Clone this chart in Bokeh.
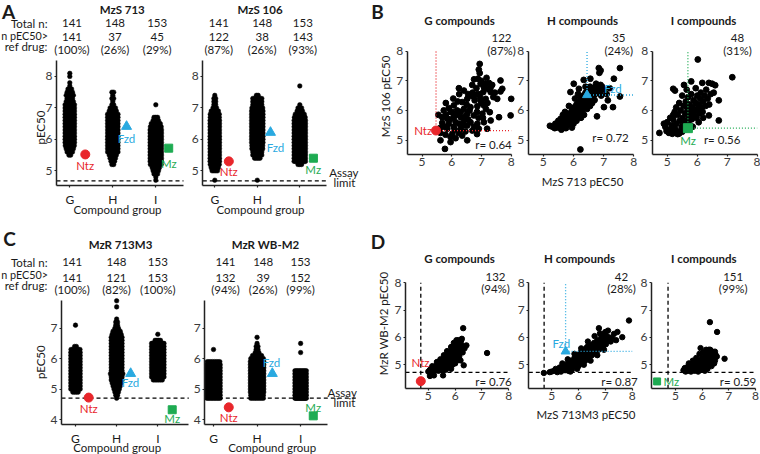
from bokeh.plotting import figure
from bokeh.models import Range1d, Label, FixedTicker
from bokeh.layouts import row, column
from bokeh.embed import file_html
from bokeh.resources import INLINE

FONT = "Lato"
FS = 11.5
SX = 1.0
SY = 1.0
RED, BLUE, GREEN = "#e8262b", "#29a9e0", "#1eab52"
INK = "#1a1a1a"
TICK = "#3a3a3a"

# ---------------- data ----------------
groups = ["G", "H", "I"]
total_n = [141, 148, 153]

# panel A / C header counts (n pEC50 > ref drug)
A1_above = ["141", "37", "45"];   A1_pct = ["(100%)", "(26%)", "(29%)"]
A2_above = ["122", "38", "143"];  A2_pct = ["(87%)", "(26%)", "(93%)"]
C1_above = ["141", "121", "153"]; C1_pct = ["(100%)", "(82%)", "(100%)"]
C2_above = ["132", "39", "152"];  C2_pct = ["(94%)", "(26%)", "(99%)"]

# swarm data: number of compounds per 0.1 pEC50 bin, starting at *_start
A1_G_start = 5.5; A1_G = [2,4,5,6,7,7,7,8,8,8,8,8,8,8,8,7,7,5,4,5,4,3,1,1,0,1,1]
A1_H_start = 5.2; A1_H = [2,3,4,5,7,8,9,9,10,10,10,10,10,10,9,8,7,5,4,2,1,2,1,2]
A1_I_start = 4.7; A1_I = [1,1,3,4,5,7,8,9,10,11,11,11,11,11,10,10,9,7,6,4,3,0,0,0,1]
A2_G_start = 4.7; A2_G = [1,0,0,4,5,6,7,7,7,7,7,7,7,7,7,7,7,7,7,7,6,6,5,3,2,2,2,1]
A2_H_start = 4.7; A2_H = [1,0,0,0,0,0,0,4,6,6,7,7,8,9,8,9,8,8,8,8,8,8,8,7,6,6,6,2]
A2_I_start = 5.2; A2_I = [3,9,9,9,9,9,9,10,10,10,9,9,9,9,8,7,6,4,3,1,0,0,0,0,0,1]
C1_G_start = 4.9; C1_G = [4,8,10,10,10,11,11,11,11,10,10,9,9,8,6,2,0,0,0,0,0,0,1]
C1_H_start = 4.7; C1_H = [1,2,3,4,5,6,7,7,8,7,7,7,7,7,7,7,7,7,7,7,7,6,5,3,2,2,1,0,0,0,1,0,1]
C1_I_start = 5.3; C1_I = [6,12,12,12,12,12,12,12,12,12,12,12,10,4,0,1]
C2_G_start = 4.7; C2_G = [10,12,12,12,12,11,11,11,11,10,10,10,8,0,0,0,1]
C2_H_start = 4.7; C2_H = [8,8,9,9,10,10,10,10,11,11,10,10,9,8,6,3,2,2,1,0,1]
C2_I_start = 4.7; C2_I = [14,17,17,17,17,17,16,14,13,9,0,0,0,0,0,1,0,0,1]

# reference drug pEC50 values in each assay
A1_drugs = {"Ntz": 5.52, "Fzd": 6.41, "Mz": 5.72}
A2_drugs = {"Ntz": 5.30, "Fzd": 6.22, "Mz": 5.40}
C1_drugs = {"Ntz": 4.72, "Fzd": 5.51, "Mz": 4.32}
C2_drugs = {"Ntz": 4.40, "Fzd": 5.51, "Mz": 4.12}
assay_limit_A = 4.68
assay_limit_C = 4.7

# panel B: MzS 713 (x) vs MzS 106 (y)
B_counts = ["122", "35", "48"]; B_pct = ["(87%)", "(24%)", "(31%)"]
B_r = ["r= 0.64", "r= 0.72", "r= 0.56"]
B1_x = [6.94,6.91,6.94,6.88,7.17,7.64,6.24,6.41,6.69,6.97,7.14,7.25,7.36,6.83,7.08,7.22,7.31,7.06,6.88,6.63,7.70,7.64,7.53,8.00,7.14,6.97,6.77,6.52,6.35,6.07,5.90,5.73,5.96,6.18,6.41,6.63,6.86,7.08,7.28,7.98,7.59,7.03,6.74,6.52,6.30,6.07,5.85,5.68,5.68,5.90,6.13,6.41,6.63,6.86,7.08,7.31,5.85,6.07,6.30,6.52,6.69,6.91,7.19,5.62,5.79,6.02,6.24,6.46,6.35,5.96,6.13,5.62,5.96,5.77,6.52,6.85,
        6.20,6.50,6.70,6.95,7.00,6.60,6.30,6.00,5.80,6.15,6.45,6.85,7.15,6.75,6.55,6.25,6.05,5.95,6.25,6.55,6.90,7.20,7.40,7.45,7.30,7.00,6.75,5.75,6.10,5.60,5.55,5.80,6.40,6.75,7.05]
B1_y = [7.57,7.38,7.26,7.07,7.10,7.01,6.75,6.67,6.86,6.90,6.90,6.93,6.86,6.75,6.79,6.73,6.62,6.62,6.56,6.50,6.73,6.64,6.39,6.39,6.39,6.34,6.34,6.39,6.28,6.17,6.08,6.00,5.94,6.00,6.05,6.11,6.14,6.17,5.94,5.83,5.77,5.89,5.83,5.89,5.77,5.77,5.72,5.77,5.58,5.55,5.60,5.66,5.60,5.55,5.60,5.66,5.38,5.44,5.38,5.49,5.32,5.38,5.38,5.24,5.18,5.21,5.24,5.29,5.15,5.10,5.06,4.99,4.93,4.70,4.99,5.20,
        6.30,6.20,6.60,6.45,6.25,6.00,5.95,5.95,5.85,5.85,5.80,5.95,6.05,6.45,6.55,6.55,6.40,5.70,5.55,5.70,5.75,6.25,6.45,6.60,6.75,7.00,7.05,5.45,5.35,5.40,5.85,6.25,5.50,5.45,5.75]
B2_x = [6.23,7.54,6.84,6.90,6.86,7.34,6.34,6.56,6.01,5.90,6.18,6.73,6.90,7.54,7.14,7.01,7.31,6.78,6.67,6.84,6.62,
        5.22,5.30,5.38,5.45,5.50,5.55,5.60,5.62,5.68,5.70,5.75,5.78,5.80,5.85,5.88,5.90,5.92,5.95,5.98,6.00,6.02,6.05,6.08,6.10,6.12,6.15,6.18,6.20,6.22,6.25,6.28,6.30,6.32,6.35,6.38,6.40,6.42,6.45,6.48,6.50,6.52,6.55,6.58,6.60,6.65,6.68,6.72,6.75,6.78,6.82,6.88,6.95,
        5.65,5.85,6.05,6.00,5.75,6.25,5.95,5.40,5.58,6.15,6.45,6.62,6.35,5.72,6.55,6.70,6.92,7.00,6.40,6.10,5.50,7.10,7.20]
B2_y = [4.68,7.43,7.43,7.35,7.27,7.07,7.03,7.07,6.90,6.62,6.73,6.79,6.86,6.47,6.34,6.11,6.11,5.80,6.50,6.62,6.67,
        5.48,5.45,5.40,5.50,5.42,5.60,5.35,5.52,5.70,5.45,5.60,5.80,5.52,5.68,5.90,5.58,5.78,6.00,5.65,5.85,6.10,5.75,5.95,6.20,5.82,6.05,6.30,5.90,6.15,6.40,6.00,6.25,6.50,6.10,6.35,6.60,6.20,6.45,6.70,6.30,6.55,6.80,6.40,6.62,6.48,6.72,6.55,6.90,6.60,6.75,6.65,6.80,
        5.85,6.15,6.40,5.55,5.40,5.75,5.42,5.55,5.72,6.55,6.05,6.25,5.85,5.95,6.15,6.35,6.50,6.70,6.80,5.65,5.65,6.55,6.75]
B3_x = [6.02,7.17,5.80,6.17,6.39,5.20,5.26,5.56,6.72,6.39,6.72,4.74,
        5.06,5.17,5.28,5.40,5.50,4.89,4.94,5.00,5.10,5.15,5.20,5.25,5.30,5.35,5.38,5.42,5.45,5.48,5.52,5.55,5.58,5.60,5.62,5.65,5.68,5.70,5.72,5.75,5.78,5.80,5.82,5.85,5.88,5.90,5.92,5.95,5.98,6.00,6.02,6.05,6.08,6.10,6.12,6.15,6.18,6.20,6.25,6.28,6.30,6.35,6.40,6.45,6.50,6.55,6.60,
        5.30,5.25,5.40,5.50,5.65,5.95,5.20,5.10,5.60,5.75,5.85,6.05,6.20,5.35,4.98]
B3_y = [7.72,7.12,6.98,6.93,6.93,6.73,6.67,6.86,6.34,5.83,5.66,5.24,
        5.24,5.21,5.24,5.22,5.28,5.55,5.44,5.60,5.35,5.50,5.70,5.40,5.55,5.85,5.30,5.65,6.00,5.45,5.75,6.15,5.55,5.90,6.30,5.65,6.05,6.45,5.80,6.20,5.95,6.55,5.70,6.10,6.35,5.85,6.00,6.25,5.75,6.50,6.05,6.20,5.90,6.40,6.60,6.10,5.95,6.30,6.50,6.15,6.70,6.40,6.20,6.55,6.90,6.60,6.85,
        6.10,5.95,6.25,6.50,6.70,6.75,5.85,5.75,5.35,5.50,5.45,5.60,5.75,5.20,5.30]

# panel D: MzS 713M3 (x) vs MzR WB-M2 (y)
D_counts = ["132", "42", "151"]; D_pct = ["(94%)", "(28%)", "(99%)"]
D_r = ["r= 0.76", "r= 0.87", "r= 0.59"]
D1_x = [6.30,7.19,6.42,6.32,6.20,5.21,5.06,5.55,
        5.00,5.05,5.10,5.12,5.18,5.20,5.25,5.28,5.30,5.35,5.38,5.40,5.42,5.45,5.48,5.50,5.52,5.55,5.58,5.60,5.62,5.65,5.68,5.70,5.72,5.75,5.78,5.80,5.82,5.85,5.88,5.90,5.92,5.95,5.98,6.00,6.02,6.05,6.08,6.10,6.12,6.15,6.18,6.20,6.22,6.25,
        6.12,5.95,5.85,5.70,5.58,5.45,5.32,5.15,5.65,5.75,5.90,6.05,6.15,6.28,6.35,5.55,5.85,6.00,6.25,6.05]
D1_y = [6.34,5.43,5.71,4.98,5.16,4.61,4.59,4.61,
        4.75,4.80,4.85,4.75,4.80,4.90,4.78,4.95,4.85,5.00,4.78,4.90,5.08,4.82,4.98,5.15,4.88,5.05,5.22,4.95,5.12,5.30,5.00,5.20,5.38,5.08,5.28,5.45,5.15,5.35,5.52,5.22,5.42,5.60,5.30,5.50,5.68,5.40,5.58,5.78,5.48,5.68,5.85,5.55,5.88,5.72,
        5.90,5.80,5.65,5.50,5.35,5.20,5.10,4.95,4.82,4.90,5.00,5.15,5.30,5.45,5.60,4.78,4.85,5.05,5.95,5.90]
D2_x = [7.88,7.63,6.76,4.71,4.93,5.21,6.95,7.32,
        5.00,5.10,5.15,5.25,5.30,5.35,5.40,5.45,5.50,5.55,5.60,5.62,5.65,5.70,5.72,5.75,5.80,5.82,5.85,5.90,5.92,5.95,6.00,6.02,6.05,6.08,6.10,6.15,6.18,6.20,6.25,6.28,6.30,6.32,6.38,6.40,6.42,6.45,6.50,6.52,6.55,6.58,6.62,6.65,6.68,6.70,6.75,6.78,6.82,6.85,6.90,6.92,6.98,7.02,7.05,7.10,7.15,7.20,7.25,7.40,
        6.60,6.35,6.10,5.85,5.60,5.40,6.80,7.00,6.95,6.70,6.45,6.20,5.95,5.70,7.10,7.45]
D2_y = [6.62,6.01,6.34,4.70,4.73,4.73,6.13,6.13,
        4.75,4.78,4.85,4.80,4.90,4.75,4.85,4.98,4.80,4.92,5.05,4.78,4.88,5.00,5.15,4.82,4.95,5.10,5.25,5.02,5.15,5.35,4.95,5.10,5.25,5.45,5.05,5.20,5.35,5.55,5.15,5.30,5.45,5.65,5.25,5.40,5.55,5.72,5.35,5.50,5.65,5.80,5.45,5.60,5.75,5.90,5.55,5.70,5.85,6.00,5.65,5.80,5.95,5.75,6.05,5.88,6.00,5.85,5.95,5.90,
        6.05,5.85,5.60,5.40,5.20,5.05,6.15,6.20,5.55,5.35,5.15,5.00,4.85,4.75,6.25,6.20]
D3_x = [6.29,6.56,6.84,5.94,
        5.30,5.35,5.38,5.42,5.45,5.48,5.50,5.55,5.58,5.60,5.62,5.65,5.68,5.70,5.72,5.75,5.78,5.80,5.82,5.85,5.88,5.90,5.92,5.95,5.98,6.00,6.02,6.05,6.08,6.10,6.12,6.15,6.18,6.20,6.22,6.25,6.28,6.30,6.32,6.35,6.38,6.40,6.42,6.45,6.48,6.50,
        5.90,5.78,6.05,6.15,6.25,5.50,5.65,6.45,6.55,6.35,5.85,6.10,6.20,6.48,6.30]
D3_y = [6.56,6.20,5.22,5.61,
        4.80,4.88,4.75,4.82,4.92,4.78,4.85,4.95,4.75,4.88,5.00,4.80,4.92,5.05,4.78,4.88,5.00,5.10,4.80,4.92,5.05,5.15,4.85,4.98,5.10,5.25,4.82,4.95,5.05,5.20,5.35,4.90,5.02,5.15,5.30,5.45,5.05,5.20,5.35,5.50,5.10,5.25,5.40,5.28,5.15,5.38,
        5.40,5.25,5.45,5.55,5.55,5.05,5.15,5.05,5.30,4.95,4.75,4.78,4.85,5.48,5.55]
B_drugs = [("Ntz", 5.47, 5.32), ("Fzd", 6.45, 6.52), ("Mz", 5.69, 5.40)]
D_drugs = [("Ntz", 4.72, 4.40), ("Fzd", 5.52, 5.49), ("Mz", 4.31, 4.39)]
assay_limit_D = 4.72

DRUG_STYLE = {"Ntz": ("circle", RED), "Fzd": ("triangle", BLUE), "Mz": ("square", GREEN)}


# ---------------- helpers ----------------
def make_fig(box, frame, xr, yr, xticks, yticks, xlabels=None, xbounds=None):
    """box: figure rectangle, frame: axes rectangle, both in reference pixels.
    The whole figure is the plotting frame; axes are drawn at fixed locations."""
    bx0, by0, bx1, by1 = round(box[0] * SX), round(box[1] * SY), round(box[2] * SX), round(box[3] * SY)
    px0, px1 = frame[0] * SX, frame[2] * SX
    py0, py1 = frame[1] * SY, frame[3] * SY
    ux = (px1 - px0) / (xr[1] - xr[0])
    uy = (py1 - py0) / (yr[1] - yr[0])
    xR = (xr[0] + (bx0 - px0) / ux, xr[0] + (bx1 - px0) / ux)
    yR = (yr[0] - (by1 - py1) / uy, yr[1] + (py0 - by0) / uy)
    p = figure(width=bx1 - bx0, height=by1 - by0, x_range=Range1d(*xR), y_range=Range1d(*yR),
               output_backend="svg", toolbar_location=None,
               min_border_left=0, min_border_right=0, min_border_top=0, min_border_bottom=0)
    p.title.visible = False
    p.outline_line_color = None
    p.grid.visible = False
    p.background_fill_color = "white"
    p.border_fill_color = "white"
    p.xaxis.ticker = FixedTicker(ticks=xticks)
    p.yaxis.ticker = FixedTicker(ticks=yticks)
    p.xaxis.fixed_location = yr[0]
    p.yaxis.fixed_location = xr[0]
    p.xaxis.bounds = xbounds if xbounds else xr
    p.yaxis.bounds = yr
    if xlabels:
        p.xaxis.major_label_overrides = {t: s for t, s in zip(xticks, xlabels)}
        p.xaxis.major_label_text_color = INK
        p.xaxis.major_label_standoff = 4
    else:
        p.xaxis.major_label_text_color = TICK
        p.xaxis.major_label_standoff = 1
    for ax in (p.xaxis[0], p.yaxis[0]):
        ax.axis_line_width = 1.5
        ax.axis_line_color = "#222222"
        ax.major_tick_line_color = "#222222"
        ax.major_tick_line_width = 1.2
        ax.major_tick_out = 2
        ax.major_tick_in = 0
        ax.minor_tick_line_color = None
        ax.major_label_text_font = FONT
        ax.major_label_text_font_size = "12px"
    p.yaxis.major_label_text_color = TICK
    p.yaxis.major_label_standoff = 2
    g = dict(bx0=bx0, by0=by0, ux=ux, uy=uy, xR=xR, yR=yR, xr=xr, yr=yr)
    return p, g


def to_data(g, rx, ry):
    x = g["xR"][0] + (rx * SX - g["bx0"]) / g["ux"]
    y = g["yR"][1] - (ry * SY - g["by0"]) / g["uy"]
    return x, y


def txt(p, g, rx, ry, s, size=FS, color=INK, bold=False, align="center", angle=0):
    x, y = to_data(g, rx, ry)
    p.add_layout(Label(x=x, y=y, text=s, text_font=FONT, text_font_size=f"{size}px",
                       text_color=color, text_font_style="bold" if bold else "normal",
                       text_align=align, text_baseline="middle", angle=angle, angle_units="deg"))


def swarm(p, g, center, start, counts, span):
    xs, ys = [], []
    for i, k in enumerate(counts):
        if k == 0:
            continue
        yv = start + 0.1 * i
        d = min(1.8, (span - 4.6) / (k - 1)) if k > 1 else 0.0
        for j in range(k):
            xs.append(center + (j - (k - 1) / 2) * d / g["ux"])
            ys.append(yv)
    p.scatter(xs, ys, size=4.6, fill_color="black", line_color="black", line_width=0.5)


def drug(p, name, x, y, size):
    m, c = DRUG_STYLE[name]
    p.scatter([x], [y], marker=m, size=size, fill_color=c, line_color=c)


def dashed(p, x0, y0, x1, y1, color="black", dash="4 3"):
    p.segment([x0], [y0], [x1], [y1], line_color=color, line_dash=dash, line_width=1.3)


# ---------------- swarm panels ----------------
def swarm_panel(box, frame, xr, yr, yticks, data, spans, drugs, offs, limit, xbounds=None, line_end=None):
    p, g = make_fig(box, frame, xr, yr, [1, 2, 3], yticks, groups, xbounds)
    dashed(p, xr[0], limit, line_end if line_end else xr[1], limit)
    for ci, (start, counts) in enumerate(data):
        swarm(p, g, ci + 1, start, counts, spans[ci])
    sizes = {"Ntz": 9, "Fzd": 10, "Mz": 8}
    for ci, name in enumerate(["Ntz", "Fzd", "Mz"]):
        drug(p, name, ci + 1 + offs[ci], drugs[name], sizes[name])
    return p, g


HDR = (22.5, 35.5, 47.5)   # header rows (Total n / n pEC50> / ref drug) in panel A

# A1
A1, gA1 = swarm_panel((0, 0, 190, 222), (56, 60, 183, 185), (0.691, 3.644), (4.532, 8.509), [5, 6, 7, 8],
                      [(A1_G_start, A1_G), (A1_H_start, A1_H), (A1_I_start, A1_I)], [14, 15, 16], A1_drugs,
                      [0.36, 0.32, 0.30], assay_limit_A)
txt(A1, gA1, 8, 11, "A", size=19, bold=True)
txt(A1, gA1, 121.7, 9, "MzS 713", bold=True)
txt(A1, gA1, 47, HDR[0], "Total n:", align="right")
txt(A1, gA1, 47.5, HDR[1] - 1, "n pEC50>", size=10.8, align="right")
txt(A1, gA1, 47, HDR[2] - 2, "ref drug:", align="right")
for xx, a, b, c in zip([71.5, 114.5, 156.7], total_n, A1_above, A1_pct):
    txt(A1, gA1, xx, HDR[0], str(a))
    txt(A1, gA1, xx, HDR[1] + 1, b)
    txt(A1, gA1, xx, HDR[2] + 1, c)
txt(A1, gA1, 40, 127, "pEC50", angle=90)
txt(A1, gA1, 117, 209, "Compound group")
txt(A1, gA1, 84.7, 165, "Ntz", color=RED)
txt(A1, gA1, 126, 138, "Fzd", color=BLUE)
txt(A1, gA1, 168.3, 162.7, "Mz", color=GREEN)

# A2
A2, gA2 = swarm_panel((190, 0, 366, 222), (202.3, 60, 326, 185), (0.718, 3.628), (4.532, 8.509), [5, 6, 7, 8],
                      [(A2_G_start, A2_G), (A2_H_start, A2_H), (A2_I_start, A2_I)], [14, 16, 16], A2_drugs,
                      [0.33, 0.31, 0.32], assay_limit_A)
txt(A2, gA2, 259.5, 9, "MzS 106", bold=True)
for xx, a, b, c in zip([218.3, 261.7, 302.3], total_n, A2_above, A2_pct):
    txt(A2, gA2, xx, HDR[0], str(a))
    txt(A2, gA2, xx, HDR[1] + 1, b)
    txt(A2, gA2, xx, HDR[2] + 1, c)
txt(A2, gA2, 343.3, 171.7, "Assay")
txt(A2, gA2, 344, 181.7, "limit")
txt(A2, gA2, 260, 209.3, "Compound group")
txt(A2, gA2, 228.3, 171, "Ntz", color=RED)
txt(A2, gA2, 275, 146.7, "Fzd", color=BLUE)
txt(A2, gA2, 312.7, 169.3, "Mz", color=GREEN)

# C1
C1, gC1 = swarm_panel((0, 222, 190, 454), (61, 300, 188.3, 424.3), (0.66, 3.753), (3.826, 7.91), [4, 5, 6, 7],
                      [(C1_G_start, C1_G), (C1_H_start, C1_H), (C1_I_start, C1_I)], [14, 17, 17], C1_drugs,
                      [0.32, 0.34, 0.35], assay_limit_C)
txt(C1, gC1, 9, 238, "C", size=19, bold=True)
txt(C1, gC1, 120, 244, "MzR 713M3", bold=True)
txt(C1, gC1, 47, 261.7, "Total n:", align="right")
txt(C1, gC1, 47.5, 274.3, "n pEC50>", size=10.8, align="right")
txt(C1, gC1, 47, 285, "ref drug:", align="right")
for xx, a, b, c in zip([71.7, 116, 157.3], total_n, C1_above, C1_pct):
    txt(C1, gC1, xx, 261.7, str(a))
    txt(C1, gC1, xx, 277.3, b)
    txt(C1, gC1, xx, 288.5, c)
txt(C1, gC1, 40, 361.7, "pEC50", angle=90)
txt(C1, gC1, 116.7, 447, "Compound group")
txt(C1, gC1, 88.3, 407.7, "Ntz", color=RED)
txt(C1, gC1, 130, 381.7, "Fzd", color=BLUE)
txt(C1, gC1, 171.7, 418.3, "Mz", color=GREEN)

# C2
C2, gC2 = swarm_panel((190, 222, 368, 454), (204.3, 300, 326.7, 424.3), (0.8, 3.61), (3.826, 7.91), [4, 5, 6, 7],
                      [(C2_G_start, C2_G), (C2_H_start, C2_H), (C2_I_start, C2_I)], [18, 18, 16], C2_drugs,
                      [0.35, 0.35, 0.29], assay_limit_C, line_end=4.30)
txt(C2, gC2, 265, 244, "MzR WB-M2", bold=True)
for xx, a, b, c in zip([225, 262.7, 300], total_n, C2_above, C2_pct):
    txt(C2, gC2, xx, 261.7, str(a))
    txt(C2, gC2, xx, 277.3, b)
    txt(C2, gC2, xx, 288.5, c)
txt(C2, gC2, 341.7, 391.7, "Assay")
txt(C2, gC2, 344, 401.7, "limit")
txt(C2, gC2, 271.7, 447, "Compound group")
txt(C2, gC2, 228.3, 416.7, "Ntz", color=RED)
txt(C2, gC2, 271, 361.7, "Fzd", color=BLUE)
txt(C2, gC2, 312.7, 406.7, "Mz", color=GREEN)


# ---------------- scatter panels ----------------
def scatter_panel(box, frame, xr, yr, xs, ys, size):
    p, g = make_fig(box, frame, xr, yr, [5, 6, 7, 8], [5, 6, 7, 8])
    p.scatter(xs, ys, size=size, fill_color="black", line_color="black")
    return p, g


B_boxes = [(366, 0, 516, 222), (516, 0, 639, 222), (639, 0, 760, 222)]
B_frames = [(406.7, 50.7, 510.7, 154.3), (527.7, 50.7, 633.3, 154.3), (651.7, 50.7, 756.7, 154.3)]
B_data = [(B1_x, B1_y), (B2_x, B2_y), (B3_x, B3_y)]
B_titles = ["G compounds", "H compounds", "I compounds"]
B_title_x = [459, 582, 703]
B_cnt_x = [501, 618.3, 737]
B_r_pos = [(493, 144), (610, 137.3), (721.7, 139.3)]
B_lab_pos = [(422.7, 130), (612.5, 87.7), (687.5, 140)]
B_colors = [RED, BLUE, GREEN]
Bp = []
for i in range(3):
    p, g = scatter_panel(B_boxes[i], B_frames[i], (4.5, 8), (4.5, 8), B_data[i][0], B_data[i][1], 5.8)
    name, dx, dy = B_drugs[i]
    col = B_colors[i]
    dashed(p, dx, dy, dx, 8, color=col, dash="1 2")
    dashed(p, dx, dy, 8, dy, color=col, dash="1 2")
    drug(p, name, dx, dy, 9)
    txt(p, g, B_title_x[i], 20, B_titles[i], bold=True)
    txt(p, g, B_cnt_x[i], 37.7, B_counts[i])
    txt(p, g, B_cnt_x[i], 50, B_pct[i])
    txt(p, g, B_r_pos[i][0], B_r_pos[i][1], B_r[i])
    txt(p, g, B_lab_pos[i][0], B_lab_pos[i][1], name, color=col)
    Bp.append((p, g))
txt(Bp[0][0], Bp[0][1], 377, 11, "B", size=19, bold=True)
txt(Bp[0][0], Bp[0][1], 385, 96, "MzS 106 pEC50", angle=90)
txt(Bp[1][0], Bp[1][1], 582, 181, "MzS 713 pEC50")

D_boxes = [(368, 222, 515, 454), (515, 222, 638, 454), (638, 222, 760, 454)]
D_frames = [(405, 282.3, 508.3, 388.3), (528.3, 282.3, 631.7, 388.3), (651, 282.3, 755, 388.3)]
D_xr = [(4.15, 8), (4.15, 8), (4.10, 8)]
D_data = [(D1_x, D1_y), (D2_x, D2_y), (D3_x, D3_y)]
D_title_x = [459, 579, 703.3]
D_cnt_x = [495, 621, 732.7]
D_r_pos = [(493, 381), (619, 381), (737.5, 381)]
D_lab_pos = [(420, 362.3), (560.8, 343.3), (670.8, 381)]
D_sizes = [9, 9, 7]
Dp = []
for i in range(3):
    xr = D_xr[i]
    p, g = scatter_panel(D_boxes[i], D_frames[i], xr, (4.12, 8), D_data[i][0], D_data[i][1], 5.4)
    dashed(p, xr[0], assay_limit_D, 8, assay_limit_D)
    dashed(p, assay_limit_D, 4.12, assay_limit_D, 8)
    name, dx, dy = D_drugs[i]
    col = B_colors[i]
    if name == "Fzd":
        dashed(p, dx, dy, dx, 8, color=col, dash="1 2")
        dashed(p, dx, dy, 8, dy, color=col, dash="1 2")
    drug(p, name, dx, dy, D_sizes[i])
    txt(p, g, D_title_x[i], 258.3, B_titles[i], bold=True)
    txt(p, g, D_cnt_x[i], 276.7, D_counts[i])
    txt(p, g, D_cnt_x[i], 288.3, D_pct[i])
    txt(p, g, D_r_pos[i][0], D_r_pos[i][1], D_r[i])
    txt(p, g, D_lab_pos[i][0], D_lab_pos[i][1], name, color=col)
    Dp.append((p, g))
txt(Dp[0][0], Dp[0][1], 377.5, 241, "D", size=19, bold=True)
txt(Dp[0][0], Dp[0][1], 383, 323, "MzR WB-M2 pEC50", angle=90)
txt(Dp[1][0], Dp[1][1], 585.5, 414.3, "MzS 713M3 pEC50")

layout = column(
    row(A1, A2, Bp[0][0], Bp[1][0], Bp[2][0], spacing=0),
    row(C1, C2, Dp[0][0], Dp[1][0], Dp[2][0], spacing=0),
    spacing=0,
)

open("out.html", "w").write(file_html(layout, INLINE))
